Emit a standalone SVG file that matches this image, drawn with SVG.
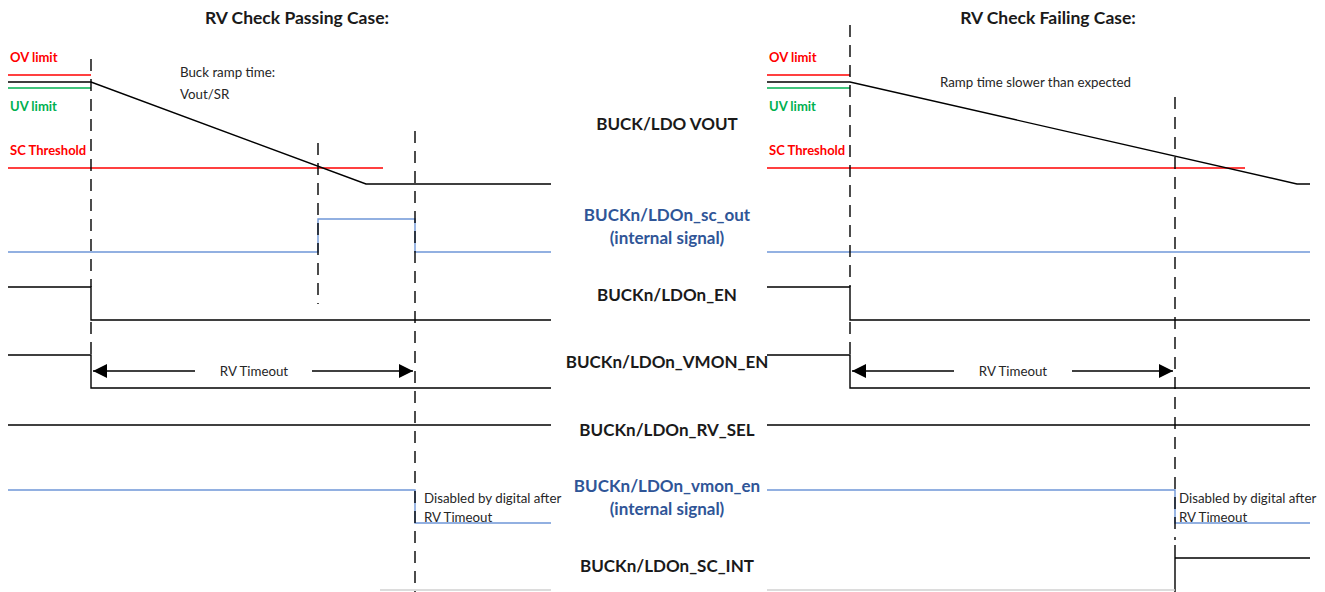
<svg xmlns="http://www.w3.org/2000/svg" width="1325" height="592" viewBox="0 0 1325 592">
  <style>
    .title { font-family: Lato, "Liberation Sans", sans-serif; font-weight: bold; font-size: 17.5px; fill: #1a1a1a; }
    .sig { font-family: Lato, "Liberation Sans", sans-serif; font-weight: bold; font-size: 17px; text-anchor: middle; fill: #1a1a1a; }
    .sigb { fill: #2F5597; }
    .lim { font-family: Lato, "Liberation Sans", sans-serif; font-weight: bold; font-size: 13px; }
    .note { font-family: Lato, "Liberation Sans", sans-serif; font-size: 13.3px; fill: #262626; }
    .red { fill: #FF0000; }
    .grn { fill: #00B050; }
    .w { fill: none; stroke: #000; stroke-width: 1.4; }
    .wb { fill: none; stroke: #6F97D8; stroke-width: 1.4; }
    .lr { stroke: #FF0000; stroke-width: 1.4; }
    .lg { stroke: #00B050; stroke-width: 1.4; }
    .dash { stroke: #000; stroke-width: 1.4; stroke-dasharray: 12 8; fill: none; }
    .arr { stroke: #000; stroke-width: 1.4; }
  </style>
  <defs>
    <marker id="ah" viewBox="0 0 10 10" refX="10" refY="5" markerWidth="24" markerHeight="14" markerUnits="userSpaceOnUse" orient="auto-start-reverse">
      <path d="M0,0 L10,5 L0,10 Z" fill="#000"/>
    </marker>
  </defs>

  <!-- centre signal names -->
  <g id="labels">
    <text class="sig" x="667" y="130">BUCK/LDO VOUT</text>
    <text class="sig sigb" x="667" y="221">BUCKn/LDOn_sc_out</text>
    <text class="sig sigb" x="667" y="244">(internal signal)</text>
    <text class="sig" x="667" y="301">BUCKn/LDOn_EN</text>
    <text class="sig" x="667" y="368">BUCKn/LDOn_VMON_EN</text>
    <text class="sig" x="667" y="436">BUCKn/LDOn_RV_SEL</text>
    <text class="sig sigb" x="667" y="492">BUCKn/LDOn_vmon_en</text>
    <text class="sig sigb" x="667" y="515">(internal signal)</text>
    <text class="sig" x="667" y="572">BUCKn/LDOn_SC_INT</text>
  </g>

  <!-- passing case -->
  <g id="pass">
    <text class="title" x="297" y="24" text-anchor="middle">RV Check Passing Case:</text>
    <text class="lim red" x="10" y="62">OV limit</text>
    <text class="lim grn" x="10" y="111">UV limit</text>
    <text class="lim red" x="10" y="155">SC Threshold</text>
    <text class="note" x="180" y="77">Buck ramp time:</text>
    <text class="note" x="180" y="99">Vout/SR</text>
    <line class="lr" x1="8" y1="75" x2="91" y2="75"/>
    <line class="lg" x1="8" y1="88" x2="91" y2="88"/>
    <line class="lr" x1="8" y1="168" x2="383" y2="168"/>
    <polyline class="w" points="8,82 91,82 366,184 551,184"/>
    <polyline class="wb" points="8,252 318,252 318,219 415,219 415,252 551,252"/>
    <polyline class="w" points="8,287 91,287 91,320 551,320"/>
    <polyline class="w" points="8,355 91,355 91,388 551,388"/>
    <line class="w" x1="8" y1="425" x2="551" y2="425"/>
    <polyline class="wb" points="8,490 415,490 415,523 551,523"/>
    <line x1="380" y1="590" x2="551" y2="590" stroke="#d0d0d0" stroke-width="1.4"/>
    <line class="dash" x1="91" y1="59" x2="91" y2="287"/>
    <line class="dash" x1="91" y1="322" x2="91" y2="355"/>
    <line class="dash" x1="318" y1="143" x2="318" y2="304"/>
    <line class="dash" x1="415" y1="131" x2="415" y2="592"/>
    <line class="arr" x1="195" y1="371" x2="93" y2="371" marker-end="url(#ah)"/>
    <line class="arr" x1="312" y1="371" x2="413" y2="371" marker-end="url(#ah)"/>
    <text class="note" x="254" y="376" text-anchor="middle">RV Timeout</text>
    <text class="note" x="424" y="503">Disabled by digital after</text>
    <text class="note" x="424" y="522">RV Timeout</text>
  </g>

  <!-- failing case -->
  <g id="fail">
    <text class="title" x="1048" y="24" text-anchor="middle">RV Check Failing Case:</text>
    <text class="lim red" x="769" y="62">OV limit</text>
    <text class="lim grn" x="769" y="111">UV limit</text>
    <text class="lim red" x="769" y="155">SC Threshold</text>
    <text class="note" x="940" y="87">Ramp time slower than expected</text>
    <line class="lr" x1="767" y1="75" x2="850" y2="75"/>
    <line class="lg" x1="767" y1="88" x2="850" y2="88"/>
    <line class="lr" x1="767" y1="168" x2="1245" y2="168"/>
    <polyline class="w" points="767,82 850,82 1297,184 1310,184"/>
    <line class="wb" x1="767" y1="252" x2="1310" y2="252"/>
    <polyline class="w" points="767,287 850,287 850,320 1310,320"/>
    <polyline class="w" points="767,355 850,355 850,388 1310,388"/>
    <line class="w" x1="767" y1="425" x2="1310" y2="425"/>
    <polyline class="wb" points="767,490 1175,490 1175,523 1310,523"/>
    <polyline class="w" points="1175,592 1175,545 1175,558 1310,558"/>
    <line x1="767" y1="590" x2="1175" y2="590" stroke="#d0d0d0" stroke-width="1.4"/>
    <line class="dash" x1="850" y1="25" x2="850" y2="287"/>
    <line class="dash" x1="850" y1="322" x2="850" y2="355"/>
    <line class="dash" x1="1175" y1="97" x2="1175" y2="540"/>
    <line class="arr" x1="954" y1="371" x2="852" y2="371" marker-end="url(#ah)"/>
    <line class="arr" x1="1072" y1="371" x2="1173" y2="371" marker-end="url(#ah)"/>
    <text class="note" x="1013" y="376" text-anchor="middle">RV Timeout</text>
    <text class="note" x="1179" y="503">Disabled by digital after</text>
    <text class="note" x="1179" y="522">RV Timeout</text>
  </g>
</svg>
